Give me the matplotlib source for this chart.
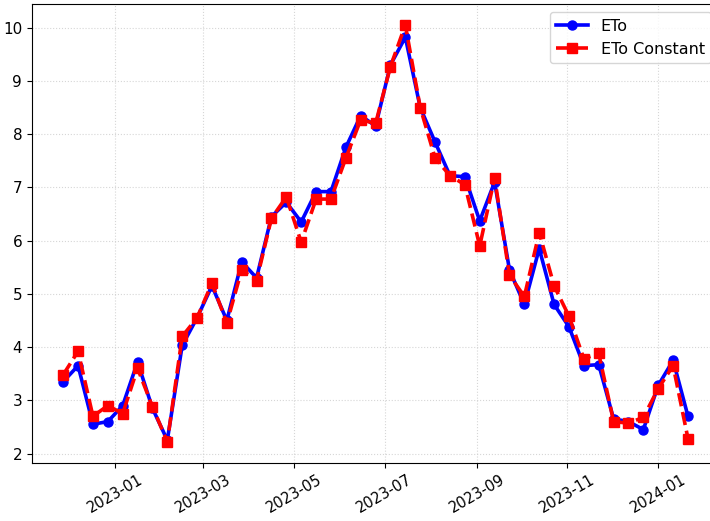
import matplotlib
matplotlib.use("Agg")
import matplotlib.pyplot as plt
import matplotlib.dates as mdates
import pandas as pd

plt.rcParams['font.family'] = ['DejaVu Sans']

# dates every 10 days
start_date = "2022-11-27"
n_points = 43
dates = pd.date_range(start_date, periods=n_points, freq="10D")

eto = [3.35, 3.65, 2.55, 2.6, 2.9, 3.72, 2.85, 2.25, 4.03, 4.55,
       5.15, 4.5, 5.6, 5.3, 6.45, 6.72, 6.35, 6.92, 6.92, 7.75,
       8.35, 8.15, 9.3, 9.82, 8.5, 7.85, 7.22, 7.2, 6.37, 7.1,
       5.45, 4.8, 5.85, 4.8, 4.38, 3.65, 3.67, 2.65, 2.6, 2.45,
       3.28, 3.75, 2.7]

eto_constant = [3.48, 3.92, 2.7, 2.9, 2.75, 3.6, 2.88, 2.22, 4.2, 4.55,
                5.2, 4.45, 5.45, 5.25, 6.42, 6.82, 5.97, 6.78, 6.78, 7.55,
                8.27, 8.2, 9.27, 10.05, 8.5, 7.55, 7.22, 7.05, 5.9, 7.18,
                5.35, 4.95, 6.15, 5.15, 4.58, 3.78, 3.88, 2.6, 2.57, 2.68,
                3.22, 3.65, 2.28]

fig = plt.figure(figsize=(7.1, 5.21), dpi=100)
ax = fig.add_axes([0.045, 0.112, 0.968, 0.880])

ax.plot(dates, eto, 'b-o', linewidth=2.6, markersize=6.5, label='ETo')
ax.plot(dates, eto_constant, 'r--s', linewidth=2.6, markersize=7, label='ETo Constant')

ax.xaxis.set_major_locator(mdates.MonthLocator(bymonth=[1, 3, 5, 7, 9, 11]))
ax.xaxis.set_major_formatter(mdates.DateFormatter('%Y-%m'))
plt.setp(ax.get_xticklabels(), rotation=30, fontsize=10.5)
plt.setp(ax.get_yticklabels(), fontsize=11)

ax.grid(True, linestyle=':', color='#cccccc', alpha=0.8)
ax.legend(loc='upper right', fontsize=11.5)

fig.savefig("out.png", dpi=100)
